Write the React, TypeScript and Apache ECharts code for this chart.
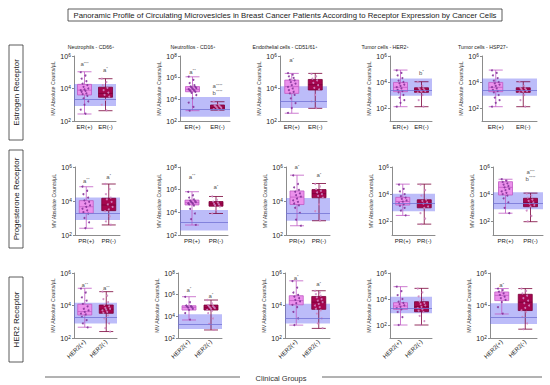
import React, { useEffect, useRef } from 'react';
import * as echarts from 'echarts';

// ---------- Texts ----------
const mainTitle = 'Panoramic Profile of Circulating Microvesicles in Breast Cancer Patients According to Receptor Expression by Cancer Cells';
const columnTitles = ['Neutrophils - CD66', 'Neutrofilos - CD16', 'Endothelial cells - CD51/61', 'Tumor cells - HER2', 'Tumor cells - HSP27'];
const rowTitles = ['Estrogen Receptor', 'Progesterone Receptor', 'HER2 Receptor'];
const groupLabels = [['ER(+)', 'ER(-)'], ['PR(+)', 'PR(-)'], ['HER2(+)', 'HER2(-)']];
const yAxisName = 'MV Absolute Counts/µL';
const xAxisTitle = 'Clinical Groups';

// ---------- Axis ranges (powers of ten) ----------
const yMinExp = [[2, 2, 2, 1, 1], [2, 2, 2, 1, 1], [2, 2, 2, 1, 2]];
const yMaxExp = [6, 8, 6, 6, 6];
const tickExps = [[2, 4, 6], [2, 4, 6, 8], [2, 4, 6], [2, 4, 6], [2, 4, 6]];

// ---------- Data (MV absolute counts / µL) ----------
// box = [min, Q1, median, Q3, max]; band = [low, high, reference line]; notes = [text, group, position]
// Estrogen receptor
const erCd66Pos = [1e5, 6.3e4, 4e4, 2.8e4, 2e4, 1.6e4, 1.26e4, 1e4, 8.9e3, 7.9e3, 7.1e3, 6.3e3, 5e3, 4.5e3, 3.5e3, 2.5e3, 1.6e3, 1e3, 500, 280];
const erCd66Neg = [4e4, 2.5e4, 1.6e4, 1.1e4, 7.9e3, 5.6e3, 4e3, 3.2e3, 2e3, 1e3, 450];
const erCd66PosBox = [270, 4000, 7900, 18000, 107000];
const erCd66NegBox = [430, 2900, 5000, 12000, 40000];
const erCd66Band = [830, 19000, 2200];
const erCd66Notes = [['a***', 0, 3.2e5], ['a*', 1, 1.4e5]];

const erCd16Pos = [1.26e6, 6.3e5, 3.2e5, 2e5, 1.6e5, 1.4e5, 1.26e5, 1.1e5, 1e5, 8.9e4, 7.9e4, 7.1e4, 6.3e4, 5.6e4, 5e4, 4e4, 2.5e4, 1.26e4, 5e3, 2e3, 900];
const erCd16Neg = [6e3, 3.5e3, 2.8e3, 2.5e3, 2.2e3, 2e3, 1.8e3, 1.6e3, 1.4e3, 1.26e3, 1e3];
const erCd16PosBox = [900, 5e4, 8.3e4, 1.5e5, 1.2e6];
const erCd16NegBox = [1000, 1260, 1800, 3000, 6000];
const erCd16Band = [250, 16000, 1260];
const erCd16Notes = [['a**', 0, 3.5e6], ['a****', 1, 1.7e5], ['b****', 1, 4.2e4]];

const erCd51Pos = [8.9e4, 7.1e4, 5.6e4, 4.5e4, 3.5e4, 3.2e4, 2.5e4, 2e4, 1.6e4, 1.26e4, 1e4, 7.9e3, 6.3e3, 5e3, 4e3, 2.5e3, 1.26e3, 630, 320];
const erCd51Neg = [7.9e4, 5.6e4, 4e4, 3.2e4, 2.2e4, 1.6e4, 1.1e4, 8.9e3, 4e3, 1.6e3, 630];
const erCd51PosBox = [300, 5000, 13000, 33000, 85000];
const erCd51NegBox = [600, 8100, 17000, 36000, 85000];
const erCd51Band = [630, 14000, 1700];
const erCd51Notes = [['a*', 0, 5.6e5]];

const erHer2Pos = [7.9e4, 5e4, 3.2e4, 2e4, 1.26e4, 1e4, 7.9e3, 6.3e3, 5e3, 4e3, 3.2e3, 2.5e3, 2e3, 1.6e3, 1e3, 630, 400, 250, 126];
const erHer2Neg = [1e4, 5e3, 3.5e3, 3.2e3, 2.8e3, 2.5e3, 2.2e3, 2e3, 1.8e3, 1.6e3, 1e3, 400, 126];
const erHer2PosBox = [126, 1800, 3900, 9300, 83000];
const erHer2NegBox = [126, 1600, 2400, 3600, 10500];
const erHer2Band = [890, 19000, 2400];
const erHer2Notes = [['b*', 1, 5.2e4]];

const erHsp27Pos = [7.9e4, 5e4, 3.2e4, 2e4, 1.26e4, 1e4, 7.9e3, 6.3e3, 5e3, 4e3, 3.2e3, 2.5e3, 2e3, 1.6e3, 1e3, 630, 400, 250, 126];
const erHsp27Neg = [1e4, 5e3, 3.5e3, 3.2e3, 2.8e3, 2.5e3, 2.2e3, 2e3, 1.8e3, 1.6e3, 1e3, 400, 126];
const erHsp27PosBox = [126, 1800, 3900, 9300, 83000];
const erHsp27NegBox = [126, 1600, 2400, 3600, 10500];
const erHsp27Band = [890, 19000, 2400];
const erHsp27Notes: any[] = [];

// Progesterone receptor
const prCd66Pos = [7.1e4, 4e4, 2.5e4, 1.6e4, 1.1e4, 8.9e3, 7.1e3, 5.6e3, 4.5e3, 3.5e3, 2.8e3, 2.2e3, 1.8e3, 1e3, 560, 250];
const prCd66Neg = [1e5, 5e4, 2.5e4, 1.6e4, 1.26e4, 8.9e3, 6.3e3, 4.5e3, 3.2e3, 2.5e3, 1.26e3, 630, 400];
const prCd66PosBox = [250, 1900, 4600, 10500, 69000];
const prCd66NegBox = [390, 2700, 5800, 14500, 100000];
const prCd66Band = [760, 16000, 2000];
const prCd66Notes = [['a**', 0, 1.6e5], ['a*', 1, 2.7e5]];

const prCd16Pos = [6.3e5, 3.2e5, 2e5, 1.4e5, 1.1e5, 1e5, 8.9e4, 7.9e4, 7.1e4, 6.3e4, 5.6e4, 5e4, 4e4, 2e4, 7.9e3, 2.5e3, 790];
const prCd16Neg = [2.5e5, 1.26e5, 8.9e4, 7.1e4, 5.6e4, 5e4, 4e4, 3.2e4, 1.6e4, 7.9e3];
const prCd16PosBox = [760, 45000, 71000, 120000, 660000];
const prCd16NegBox = [7900, 35000, 56000, 89000, 250000];
const prCd16Band = [250, 16000, 1260];
const prCd16Notes = [['a**', 0, 1.4e7], ['a*', 1, 1.7e6]];

const prCd51Pos = [3.2e5, 1e5, 6.3e4, 4.5e4, 3.5e4, 2.8e4, 2.2e4, 1.8e4, 1.4e4, 1.1e4, 8.9e3, 7.1e3, 5.6e3, 4e3, 2e3, 790, 350];
const prCd51Neg = [1e5, 7.1e4, 5e4, 4e4, 3.2e4, 2.5e4, 2e4, 1.6e4, 6.3e3, 2.5e3, 710];
const prCd51PosBox = [350, 6200, 17000, 39000, 330000];
const prCd51NegBox = [690, 15500, 27000, 47000, 107000];
const prCd51Band = [690, 15000, 1900];
const prCd51Notes = [['a*', 0, 1e6], ['a*', 1, 3.3e5]];

const prHer2Pos = [5e4, 2.5e4, 1.6e4, 1e4, 7.1e3, 5.6e3, 4.5e3, 3.5e3, 2.8e3, 2.2e3, 1.8e3, 1.4e3, 1e3, 630, 280];
const prHer2Neg = [5e4, 2e4, 7.9e3, 4e3, 3.2e3, 2.5e3, 2e3, 1.26e3, 1e3, 400, 160, 63];
const prHer2PosBox = [275, 1600, 2900, 5900, 55000];
const prHer2NegBox = [63, 1000, 2100, 3900, 55000];
const prHer2Band = [560, 11000, 2000];
const prHer2Notes: any[] = [];

const prHsp27Pos = [1.26e5, 1e5, 7.9e4, 6.3e4, 5e4, 4e4, 3.2e4, 2.5e4, 2e4, 1.6e4, 1.26e4, 1e4, 7.9e3, 5e3, 2.5e3, 1e3, 400];
const prHsp27Neg = [1.1e4, 7.9e3, 5.6e3, 4e3, 3.2e3, 2.5e3, 2e3, 1.6e3, 1.26e3, 630, 250, 100];
const prHsp27PosBox = [400, 8700, 32000, 83000, 126000];
const prHsp27NegBox = [95, 1200, 2400, 5000, 12000];
const prHsp27Band = [780, 14000, 2200];
const prHsp27Notes = [['a***', 1, 4.2e5], ['b****', 1, 1.35e5]];

// HER2 receptor
const herCd66Pos = [1.1e5, 6.3e4, 3.2e4, 2e4, 1.26e4, 8.9e3, 6.3e3, 5e3, 4e3, 3.2e3, 2.8e3, 2e3, 1.26e3, 790, 450];
const herCd66Neg = [7.1e4, 4e4, 2.5e4, 1.6e4, 1.1e4, 8.9e3, 7.1e3, 6.3e3, 5.6e3, 5e3, 4e3, 3.5e3, 2.5e3, 1.6e3, 790, 400, 250];
const herCd66PosBox = [460, 2600, 4200, 12000, 115000];
const herCd66NegBox = [250, 3300, 5900, 10700, 71000];
const herCd66Band = [790, 15000, 2000];
const herCd66Notes = [['a**', 0, 1.8e5], ['a**', 1, 1.15e5]];

const herCd16Pos = [6.3e5, 2e5, 1e5, 8.9e4, 7.9e4, 7.1e4, 6.3e4, 5e4, 4e4, 2e4, 5e3];
const herCd16Neg = [3.2e5, 1.6e5, 1.1e5, 8.9e4, 7.9e4, 7.1e4, 6.3e4, 5.6e4, 5e4, 4e4, 3.2e4, 2e4, 6.3e3, 2e3, 560];
const herCd16PosBox = [4600, 38000, 68000, 95000, 650000];
const herCd16NegBox = [550, 38000, 63000, 110000, 320000];
const herCd16Band = [680, 15500, 1950];
const herCd16Notes = [['a*', 0, 2.7e6], ['a*', 1, 7.9e5]];

const herCd51Pos = [3.2e5, 1.26e5, 6.3e4, 4.5e4, 3.5e4, 2.8e4, 2.2e4, 1.8e4, 1.4e4, 1.1e4, 7.9e3, 4e3, 1.6e3, 630];
const herCd51Neg = [7.9e4, 6.3e4, 5e4, 4e4, 3.2e4, 2.5e4, 2e4, 1.6e4, 1.26e4, 1e4, 7.9e3, 6.3e3, 5e3, 3.2e3, 1.6e3, 790, 400];
const herCd51PosBox = [620, 11000, 20000, 40000, 330000];
const herCd51NegBox = [390, 5800, 16000, 36000, 81000];
const herCd51Band = [780, 12600, 1700];
const herCd51Notes = [['a*', 0, 5.2e5], ['a*', 1, 2e5]];

const herHer2Pos = [8.9e4, 4e4, 2e4, 1e4, 6.3e3, 5e3, 4e3, 3.2e3, 2.5e3, 2e3, 1.6e3, 1e3, 400, 100];
const herHer2Neg = [6.3e4, 3.2e4, 1.6e4, 8.9e3, 6.3e3, 5e3, 4e3, 3.2e3, 2.5e3, 2e3, 1.6e3, 1.26e3, 1e3, 500, 200, 100];
const herHer2PosBox = [100, 1600, 2900, 5200, 89000];
const herHer2NegBox = [100, 1050, 2600, 6200, 66000];
const herHer2Band = [790, 15000, 2000];
const herHer2Notes: any[] = [];

const herHsp27Pos = [1.1e5, 8.9e4, 7.1e4, 5.6e4, 4.5e4, 3.5e4, 2.8e4, 2.2e4, 1.6e4, 7.9e3, 3.2e3];
const herHsp27Neg = [1.1e5, 7.9e4, 5.6e4, 4e4, 2.8e4, 2e4, 1.4e4, 1e4, 7.1e3, 5e3, 4e3, 2e3, 790, 350];
const herHsp27PosBox = [3000, 20000, 42000, 68000, 110000];
const herHsp27NegBox = [350, 4900, 16000, 49000, 110000];
const herHsp27Band = [720, 14000, 1860];
const herHsp27Notes = [['a*', 0, 1.8e5]];

const panels = [
  [
    { pos: erCd66Pos, neg: erCd66Neg, posBox: erCd66PosBox, negBox: erCd66NegBox, band: erCd66Band, notes: erCd66Notes },
    { pos: erCd16Pos, neg: erCd16Neg, posBox: erCd16PosBox, negBox: erCd16NegBox, band: erCd16Band, notes: erCd16Notes },
    { pos: erCd51Pos, neg: erCd51Neg, posBox: erCd51PosBox, negBox: erCd51NegBox, band: erCd51Band, notes: erCd51Notes },
    { pos: erHer2Pos, neg: erHer2Neg, posBox: erHer2PosBox, negBox: erHer2NegBox, band: erHer2Band, notes: erHer2Notes },
    { pos: erHsp27Pos, neg: erHsp27Neg, posBox: erHsp27PosBox, negBox: erHsp27NegBox, band: erHsp27Band, notes: erHsp27Notes },
  ],
  [
    { pos: prCd66Pos, neg: prCd66Neg, posBox: prCd66PosBox, negBox: prCd66NegBox, band: prCd66Band, notes: prCd66Notes },
    { pos: prCd16Pos, neg: prCd16Neg, posBox: prCd16PosBox, negBox: prCd16NegBox, band: prCd16Band, notes: prCd16Notes },
    { pos: prCd51Pos, neg: prCd51Neg, posBox: prCd51PosBox, negBox: prCd51NegBox, band: prCd51Band, notes: prCd51Notes },
    { pos: prHer2Pos, neg: prHer2Neg, posBox: prHer2PosBox, negBox: prHer2NegBox, band: prHer2Band, notes: prHer2Notes },
    { pos: prHsp27Pos, neg: prHsp27Neg, posBox: prHsp27PosBox, negBox: prHsp27NegBox, band: prHsp27Band, notes: prHsp27Notes },
  ],
  [
    { pos: herCd66Pos, neg: herCd66Neg, posBox: herCd66PosBox, negBox: herCd66NegBox, band: herCd66Band, notes: herCd66Notes },
    { pos: herCd16Pos, neg: herCd16Neg, posBox: herCd16PosBox, negBox: herCd16NegBox, band: herCd16Band, notes: herCd16Notes },
    { pos: herCd51Pos, neg: herCd51Neg, posBox: herCd51PosBox, negBox: herCd51NegBox, band: herCd51Band, notes: herCd51Notes },
    { pos: herHer2Pos, neg: herHer2Neg, posBox: herHer2PosBox, negBox: herHer2NegBox, band: herHer2Band, notes: herHer2Notes },
    { pos: herHsp27Pos, neg: herHsp27Neg, posBox: herHsp27PosBox, negBox: herHsp27NegBox, band: herHsp27Band, notes: herHsp27Notes },
  ],
];

// ---------- Layout & style ----------
const FONT = '"Liberation Sans", Arial, Helvetica, sans-serif';
const ROW_TOP = [56, 167, 273];
const ROW_BOTTOM = [121, 235, 338];
const COL_LEFT = [[74, 180, 280, 390, 482], [75, 180, 286, 392, 493], [74, 178, 285, 390, 490]];
const COL_RIGHT = [[116, 230, 327, 432, 537], [120, 228, 330, 435, 543], [117, 222, 330, 432, 537]];
const COL_TITLE_X = [91, 193, 285, 385, 483];
const ROW_BOX = [[45, 140], [150, 248], [277, 362]];
const POS_FILL = '#ec90ec';
const POS_BORDER = '#c05ac4';
const NEG_FILL = '#a5064f';
const NEG_BORDER = '#7a0039';
const POS_DOT = '#84349a';
const NEG_DOT = '#cf86c2';
const BAND = 'rgba(95,95,240,0.42)';
const BAND_LINE = '#7474d4';
const AXIS = '#8c8c8c';

const L = (v: number) => Math.log10(v);
const jitter = (i: number) => (((i * 5) % 9) - 4) * 0.95;

function buildOption() {
  const grid: any[] = [];
  const xAxis: any[] = [];
  const yAxis: any[] = [];
  const series: any[] = [];
  panels.forEach((row, r) => {
    row.forEach((pd, c) => {
      const p = grid.length;
      const left = COL_LEFT[r][c];
      grid.push({ left, top: ROW_TOP[r], width: COL_RIGHT[r][c] - left, height: ROW_BOTTOM[r] - ROW_TOP[r], containLabel: false });
      xAxis.push({
        type: 'category', gridIndex: p, data: groupLabels[r],
        axisLine: { show: true, lineStyle: { color: AXIS, width: 1 } },
        axisTick: { show: false },
        axisLabel: { fontSize: 6, color: '#222', margin: 3, interval: 0, rotate: r === 2 ? 45 : 0, fontFamily: FONT },
        splitLine: { show: false },
      });
      const ticks = tickExps[c];
      yAxis.push({
        type: 'value', gridIndex: p, min: yMinExp[r][c], max: yMaxExp[c],
        axisLine: { show: true, lineStyle: { color: AXIS, width: 1 } },
        axisTick: { show: true, length: 2, customValues: ticks, lineStyle: { color: AXIS } },
        axisLabel: {
          customValues: ticks, fontSize: 7, color: '#222', margin: 3, fontFamily: FONT,
          formatter: (v: number) => `10{s|${v}}`,
          rich: { s: { fontSize: 4.8, verticalAlign: 'top', lineHeight: 5, padding: [0, 0, 3, 0.3], fontFamily: FONT, color: '#222' } },
        },
        splitLine: { show: false },
        name: yAxisName, nameLocation: 'middle', nameGap: 19,
        nameTextStyle: { fontSize: 5.2, color: '#333', fontFamily: FONT },
      });
      series.push({
        type: 'boxplot', xAxisIndex: p, yAxisIndex: p, z: 2, boxWidth: [13, 14], silent: true,
        data: [
          { value: pd.posBox.map(L), itemStyle: { color: POS_FILL, borderColor: POS_BORDER, borderWidth: 0.8 } },
          { value: pd.negBox.map(L), itemStyle: { color: NEG_FILL, borderColor: NEG_BORDER, borderWidth: 0.8 } },
        ],
      });
      series.push({
        type: 'scatter', xAxisIndex: p, yAxisIndex: p, z: 3, data: [], silent: true,
        markArea: { silent: true, itemStyle: { color: BAND }, data: [[{ yAxis: L(pd.band[0]) }, { yAxis: L(pd.band[1]) }]] },
        markLine: { silent: true, symbol: 'none', label: { show: false }, lineStyle: { color: BAND_LINE, width: 0.8, type: 'solid' }, data: [{ yAxis: L(pd.band[2]) }] },
      });
      [pd.pos, pd.neg].forEach((vals, gi) => {
        series.push({
          type: 'scatter', xAxisIndex: p, yAxisIndex: p, z: 4, silent: true,
          symbolSize: 2,
          itemStyle: { color: gi === 0 ? POS_DOT : NEG_DOT, opacity: 0.9 },
          data: vals.map((v, i) => ({ value: [gi, L(v)], symbolOffset: [jitter(i), 0] })),
        });
      });
      if (pd.notes.length) {
        series.push({
          type: 'scatter', xAxisIndex: p, yAxisIndex: p, z: 5, silent: true, symbolSize: 1,
          itemStyle: { color: 'rgba(0,0,0,0)' },
          data: pd.notes.map((n: any) => ({ value: [n[1], L(n[2])], note: n[0] })),
          label: {
            show: true, position: 'inside', color: '#222', fontFamily: FONT,
            formatter: (prm: any) => `{a|${prm.data.note.slice(0, 1)}}{s|${prm.data.note.slice(1)}}`,
            rich: {
              a: { fontSize: 6, color: '#222', fontFamily: FONT, lineHeight: 6 },
              s: { fontSize: 4.2, color: '#222', fontFamily: FONT, verticalAlign: 'top', lineHeight: 4, padding: [0, 0, 2.5, 0] },
            },
          },
        });
      }
    });
  });

  const graphic: any[] = [];
  graphic.push({ type: 'rect', shape: { x: 68, y: 9, width: 434, height: 12 }, style: { fill: '#fff', stroke: '#333', lineWidth: 0.8 } });
  graphic.push({ type: 'text', x: 285, y: 15.3, style: { text: mainTitle, fontSize: 7.75, fontFamily: FONT, fill: '#222', align: 'center', verticalAlign: 'middle' } });
  columnTitles.forEach((t, c) => {
    graphic.push({
      type: 'text', x: COL_TITLE_X[c], y: 47,
      style: {
        text: `${t}{s|+}`, fontSize: 5.2, fontFamily: FONT, fill: '#222', align: 'center', verticalAlign: 'middle',
        rich: { s: { fontSize: 3.8, fontFamily: FONT, fill: '#222', verticalAlign: 'top', lineHeight: 4, padding: [0, 0, 2, 0] } },
      },
    });
  });
  rowTitles.forEach((t, r) => {
    const [y0, y1] = ROW_BOX[r];
    graphic.push({ type: 'rect', shape: { x: 9, y: y0, width: 14, height: y1 - y0 }, style: { fill: '#fff', stroke: '#333', lineWidth: 0.8 } });
    graphic.push({ type: 'text', x: 16.3, y: (y0 + y1) / 2, rotation: Math.PI / 2, style: { text: t, fontSize: 8, fontFamily: FONT, fill: '#222', align: 'center', verticalAlign: 'middle' } });
  });
  graphic.push({ type: 'line', shape: { x1: 45, y1: 377, x2: 240, y2: 377 }, style: { stroke: '#666', lineWidth: 1 } });
  graphic.push({ type: 'line', shape: { x1: 322, y1: 377, x2: 542, y2: 377 }, style: { stroke: '#666', lineWidth: 1 } });
  graphic.push({ type: 'text', x: 281, y: 378, style: { text: xAxisTitle, fontSize: 7.5, fontFamily: FONT, fill: '#333', align: 'center', verticalAlign: 'middle' } });

  return { animation: false, backgroundColor: '#fff', textStyle: { fontFamily: FONT }, grid, xAxis, yAxis, series, graphic };
}

export default function App() {
  const ref = useRef<HTMLDivElement>(null);
  useEffect(() => {
    document.body.style.margin = '0';
    if (!ref.current) return;
    const chart = echarts.init(ref.current, undefined, { renderer: 'svg' });
    chart.setOption(buildOption() as any);
    return () => chart.dispose();
  }, []);
  return <div ref={ref} style={{ width: 550, height: 385 }} />;
}
